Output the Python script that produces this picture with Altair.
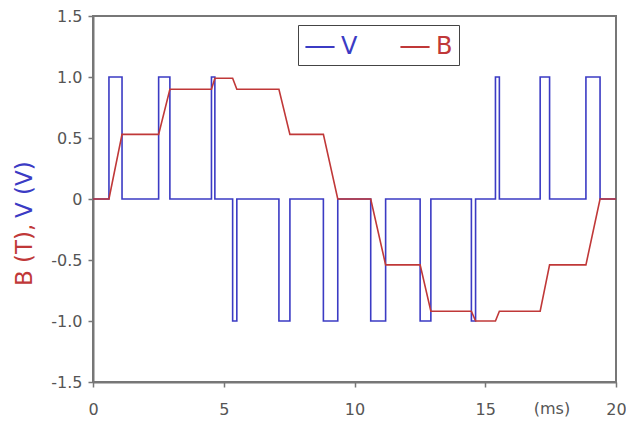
import altair as alt
import pandas as pd

# V: rectangular pulses (start ms, end ms, level)
pulse_on = [0.61, 2.51, 4.53, 5.34, 7.11, 8.81, 10.62, 12.51, 14.47, 15.39, 17.10, 18.85]
pulse_off = [1.11, 2.94, 4.66, 5.50, 7.53, 9.36, 11.19, 12.92, 14.63, 15.54, 17.46, 19.39]
pulse_level = [1, 1, 1, -1, -1, -1, -1, -1, -1, 1, 1, 1]

# B: piecewise linear breakpoints
b_t = [0, 0.61, 1.11, 2.51, 2.94, 4.53, 4.66, 5.34, 5.50, 7.11, 7.53, 8.81, 9.36,
       10.62, 11.19, 12.51, 12.92, 14.47, 14.63, 15.39, 15.54, 17.10, 17.46, 18.85, 19.39, 20]
b_v = [0, 0, 0.53, 0.53, 0.90, 0.90, 0.99, 0.99, 0.90, 0.90, 0.53, 0.53, 0,
       0, -0.54, -0.54, -0.92, -0.92, -1.0, -1.0, -0.92, -0.92, -0.54, -0.54, 0, 0]

x_ticks = [0, 5, 10, 15, 20]
y_ticks = [-1.5, -1.0, -0.5, 0, 0.5, 1.0, 1.5]
series = ["V", "B"]

BLUE = "#3b3bc4"
RED = "#c03838"

rows = [("V", 0.0, 0.0)]
for on, off, lv in zip(pulse_on, pulse_off, pulse_level):
    rows += [("V", on, 0.0), ("V", on, lv), ("V", off, lv), ("V", off, 0.0)]
rows.append(("V", 20.0, 0.0))
for t, v in zip(b_t, b_v):
    rows.append(("B", t, v))
df = pd.DataFrame(rows, columns=["series", "t", "v"])
df["idx"] = range(len(df))

W, H = 523, 366

lines = alt.Chart(df).mark_line(strokeWidth=1.6).encode(
    x=alt.X("t:Q", scale=alt.Scale(domain=[0, 20], nice=False),
            axis=alt.Axis(values=x_ticks, format="d", title=None, labelPadding=14, labelFlush=False)),
    y=alt.Y("v:Q", scale=alt.Scale(domain=[-1.5, 1.5], nice=False),
            axis=alt.Axis(values=y_ticks, title=None, labelPadding=6, labelFlush=False,
                          labelExpr="datum.value == 0 ? '0' : (datum.value < 0 ? '-' : '') + format(abs(datum.value), '.1f')")),
    color=alt.Color("series:N", scale=alt.Scale(domain=series, range=[BLUE, RED]),
                    legend=alt.Legend(orient="none", legendX=205, legendY=9, direction="horizontal",
                                      title=None, strokeColor="#444", fillColor="white", padding=6,
                                      symbolType="stroke", symbolStrokeWidth=2, symbolSize=850,
                                      labelFontSize=24, labelOffset=5, columnPadding=38,
                                      labelColor=alt.ExprRef(expr=f"datum.label == 'V' ? '{BLUE}' : '{RED}'"))),
    order="idx:Q",
)

title_b = alt.Chart(pd.DataFrame({"txt": ["B (T),"]})).mark_text(
    angle=270, align="left", baseline="middle", fontSize=23, color=RED, font="DejaVu Sans"
).encode(text="txt:N", x=alt.value(-68), y=alt.value(270))

title_v = alt.Chart(pd.DataFrame({"txt": ["V (V)"]})).mark_text(
    angle=270, align="left", baseline="middle", fontSize=23, color=BLUE, font="DejaVu Sans"
).encode(text="txt:N", x=alt.value(-68), y=alt.value(202))

unit = alt.Chart(pd.DataFrame({"t": [17.55], "txt": ["(ms)"]})).mark_text(
    baseline="top", fontSize=16, color="#555", font="DejaVu Sans"
).encode(text="txt:N", x="t:Q", y=alt.value(H + 19))

chart = alt.layer(lines, title_b, title_v, unit).properties(
    width=W, height=H,
    autosize=alt.AutoSizeParams(type="none"),
    padding={"left": 85, "top": 8, "right": 10, "bottom": 40},
).configure(font="DejaVu Sans").configure_view(
    stroke="#777", strokeWidth=2
).configure_axis(
    domainColor="#777", domainWidth=2, tickColor="#777", tickWidth=1.5, tickSize=5,
    labelColor="#555", labelFontSize=16, grid=False, labelFont="DejaVu Sans"
)

chart.save("out.html", embed_options={"renderer": "svg", "actions": False})
